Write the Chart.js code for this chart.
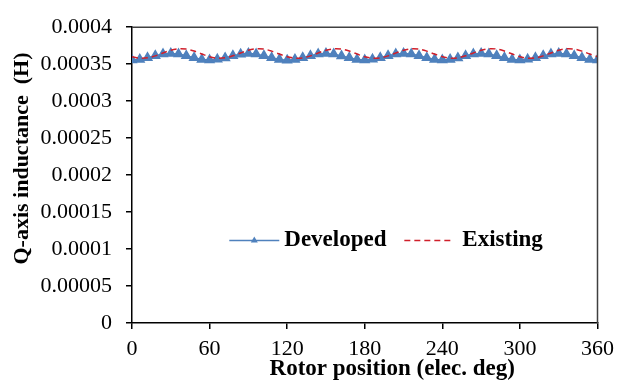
<!DOCTYPE html>
<html>
<head>
<meta charset="utf-8">
<script src="https://cdn.jsdelivr.net/npm/chart.js@4/dist/chart.umd.min.js"></script>
<style>
html,body{margin:0;padding:0;background:#fff;}
#wrap{width:621px;height:387px;}
</style>
</head>
<body>
<div id="wrap"><canvas id="c" width="621" height="387"></canvas></div>
<script>
// Rotor position (elec. deg)
const angles = [0,6,12,18,24,30,36,42,48,54,60,66,72,78,84,90,96,102,108,114,120,126,132,138,144,150,156,162,168,174,180,186,192,198,204,210,216,222,228,234,240,246,252,258,264,270,276,282,288,294,300,306,312,318,324,330,336,342,348,354,360];
// Q-axis inductance (H), developed machine
const developed = [
0.0003555,0.0003564,0.0003586,0.0003614,0.0003636,0.0003645,0.0003637,0.0003613,0.0003587,0.0003563,
0.0003556,0.0003565,0.0003585,0.0003615,0.0003635,0.0003646,0.0003636,0.0003614,0.0003586,0.0003564,
0.0003554,0.0003564,0.0003587,0.0003613,0.0003636,0.0003645,0.0003636,0.0003612,0.0003587,0.0003563,
0.0003555,0.0003565,0.0003586,0.0003614,0.0003637,0.0003646,0.0003637,0.0003613,0.0003586,0.0003564,
0.0003556,0.0003564,0.0003585,0.0003613,0.0003636,0.0003645,0.0003636,0.0003614,0.0003587,0.0003563,
0.0003555,0.0003565,0.0003586,0.0003614,0.0003636,0.0003646,0.0003637,0.0003613,0.0003586,0.0003564,
0.0003555];
// Q-axis inductance (H), existing machine
const existing = [
0.0003601,0.0003582,0.0003586,0.0003612,0.0003652,0.0003688,0.0003708,0.0003704,0.0003677,0.0003638,
0.0003600,0.0003581,0.0003586,0.0003613,0.0003651,0.0003689,0.0003709,0.0003705,0.0003676,0.0003637,
0.0003601,0.0003582,0.0003585,0.0003612,0.0003652,0.0003688,0.0003708,0.0003704,0.0003677,0.0003638,
0.0003600,0.0003582,0.0003586,0.0003612,0.0003651,0.0003688,0.0003709,0.0003704,0.0003676,0.0003637,
0.0003601,0.0003581,0.0003586,0.0003613,0.0003652,0.0003689,0.0003708,0.0003705,0.0003677,0.0003638,
0.0003600,0.0003582,0.0003585,0.0003612,0.0003652,0.0003688,0.0003708,0.0003704,0.0003676,0.0003637,
0.0003601];
const seriesNames = ['Developed','Existing'];
const xTickLabels = ['0','60','120','180','240','300','360'];
const yTickLabels = ['0','0.00005','0.0001','0.00015','0.0002','0.00025','0.0003','0.00035','0.0004'];
const xTitle = 'Rotor position (elec. deg)';
const yTitle = 'Q-axis inductance  (H)';

const SERIF = "'Liberation Serif','Times New Roman',serif";
const BLUE = '#4F81BD';
const RED = '#D01F2A';

const decor = {
  id: 'decor',
  afterDraw(chart) {
    const ctx = chart.ctx;
    const a = chart.chartArea;
    const w = a.right - a.left, h = a.bottom - a.top;
    ctx.save();
    // top and right frame
    ctx.strokeStyle = '#404040';
    ctx.lineWidth = 1.5;
    ctx.beginPath();
    ctx.moveTo(a.left, a.top);
    ctx.lineTo(a.right, a.top);
    ctx.lineTo(a.right, a.bottom);
    ctx.stroke();
    // axis titles
    ctx.fillStyle = '#000';
    ctx.font = "bold 23px " + SERIF;
    ctx.textAlign = 'center';
    ctx.textBaseline = 'middle';
    ctx.fillText(xTitle, a.left + w * 0.559, a.bottom + 46);
    ctx.save();
    ctx.font = "bold 22px " + SERIF;
    ctx.translate(22, a.top + h * 0.444);
    ctx.rotate(-Math.PI / 2);
    ctx.fillText(yTitle, 0, 0);
    ctx.restore();
    // legend
    const ly = a.top + h * 0.721;
    const ds = chart.data.datasets;
    // Developed
    let x0 = a.left + w * 0.209;
    ctx.strokeStyle = ds[0].borderColor;
    ctx.lineWidth = 1.5;
    ctx.setLineDash([]);
    ctx.beginPath(); ctx.moveTo(x0, ly); ctx.lineTo(x0 + 50, ly); ctx.stroke();
    ctx.fillStyle = ds[0].pointBackgroundColor;
    ctx.beginPath();
    ctx.moveTo(x0 + 25, ly - 4); ctx.lineTo(x0 + 28.5, ly + 2); ctx.lineTo(x0 + 21.5, ly + 2); ctx.closePath(); ctx.fill();
    ctx.fillStyle = '#000';
    ctx.textAlign = 'left';
    ctx.font = "bold 23px " + SERIF;
    ctx.fillText(ds[0].label, x0 + 55, ly);
    // Existing
    let x1 = a.left + w * 0.585;
    ctx.strokeStyle = ds[1].borderColor;
    ctx.setLineDash([6, 4]);
    ctx.beginPath(); ctx.moveTo(x1, ly); ctx.lineTo(x1 + 48, ly); ctx.stroke();
    ctx.setLineDash([]);
    ctx.fillText(ds[1].label, x1 + 58, ly);
    ctx.restore();
  }
};

new Chart(document.getElementById('c'), {
  type: 'line',
  data: {
    datasets: [
      {
        label: seriesNames[0],
        data: angles.map((x, i) => ({x: x, y: developed[i]})),
        borderColor: BLUE,
        backgroundColor: BLUE,
        pointBackgroundColor: BLUE,
        pointBorderColor: BLUE,
        pointStyle: 'triangle',
        pointRadius: 5,
        borderWidth: 1.5,
        tension: 0,
        order: 1
      },
      {
        label: seriesNames[1],
        data: angles.map((x, i) => ({x: x, y: existing[i]})),
        borderColor: RED,
        backgroundColor: RED,
        borderDash: [6, 4],
        borderWidth: 1.5,
        pointRadius: 0,
        tension: 0.3,
        order: 0
      }
    ]
  },
  options: {
    responsive: false,
    animation: false,
    events: [],
    layout: {padding: {top: 18, right: 21, left: 0, bottom: 0}},
    plugins: {legend: {display: false}, tooltip: {enabled: false}},
    scales: {
      x: {
        type: 'linear', min: 0, max: 360,
        afterFit(s) { s.height = 64; },
        afterBuildTicks(s) { s.ticks = xTickLabels.map(v => ({value: Number(v)})); },
        ticks: {
          callback: (v, i) => xTickLabels[i],
          font: {family: SERIF, size: 22}, color: '#000', padding: 7, maxRotation: 0, autoSkip: false
        },
        grid: {drawOnChartArea: false, drawTicks: true, tickLength: 6, color: '#000', lineWidth: 1.5},
        border: {display: true, color: '#000', width: 1.5}
      },
      y: {
        min: 0, max: 0.0004,
        afterFit(s) { s.width = 132; },
        afterBuildTicks(s) { s.ticks = yTickLabels.map(v => ({value: Number(v)})); },
        ticks: {
          callback: (v, i) => yTickLabels[i],
          font: {family: SERIF, size: 22}, color: '#000', padding: 14, autoSkip: false
        },
        grid: {drawOnChartArea: false, drawTicks: true, tickLength: 6, color: '#000', lineWidth: 1.5},
        border: {display: true, color: '#000', width: 1.5}
      }
    }
  },
  plugins: [decor]
});
</script>
</body>
</html>
